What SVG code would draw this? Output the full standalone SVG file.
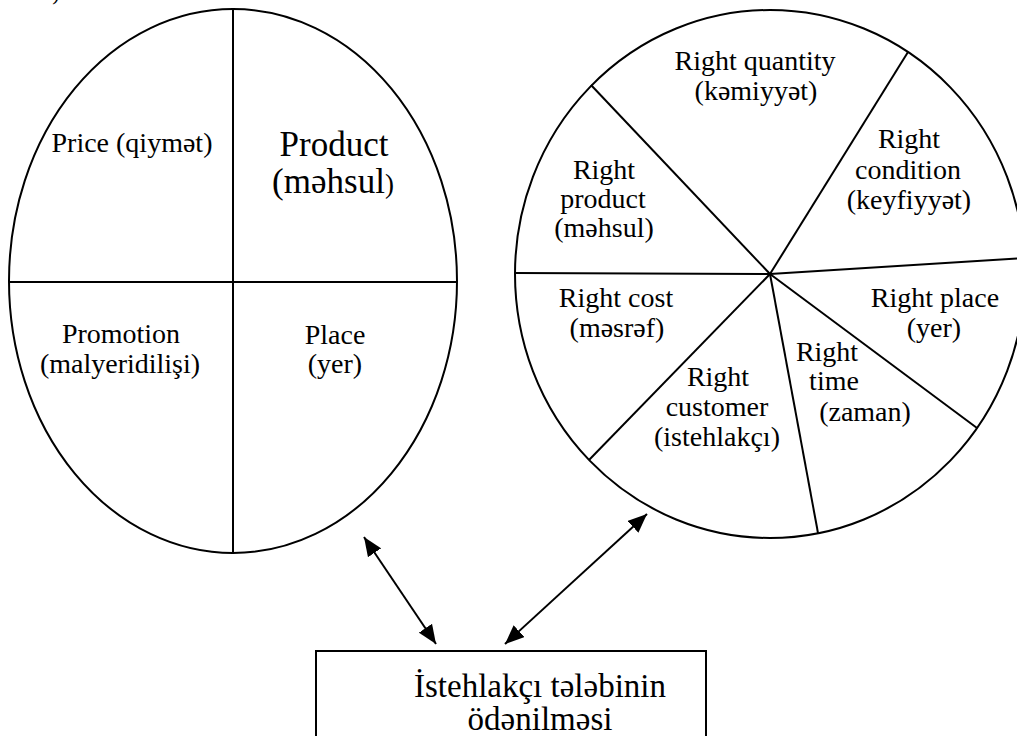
<svg xmlns="http://www.w3.org/2000/svg" width="1017" height="736" viewBox="0 0 1017 736">
<style>
.shape{fill:none;stroke:#000;stroke-width:2}
.t{font-family:"Liberation Serif","Times New Roman",serif;font-size:28px;fill:#000;text-anchor:middle}
.big{font-size:35px}
.box{font-size:33px}
.conn{stroke:#000;stroke-width:2;fill:none;marker-start:url(#ah);marker-end:url(#ah)}
</style>
<defs>
<marker id="ah" markerUnits="userSpaceOnUse" markerWidth="19" markerHeight="16" refX="19" refY="8" orient="auto-start-reverse">
<path d="M0,0 L19,8 L0,16 z" fill="#000"/>
</marker>
</defs>
<rect x="0" y="0" width="1017" height="736" fill="#fff"/>
<text class="t" x="56" y="0" style="font-size:22px">)</text>
<g id="four-p">
<ellipse class="shape" cx="233" cy="281" rx="224" ry="272"/>
<line class="shape" x1="233" y1="9" x2="233" y2="553"/>
<line class="shape" x1="9" y1="282" x2="457" y2="282"/>
<text class="t" x="132" y="152">Price (qiymət)</text>
<text class="t big" x="334" y="156">Product</text>
<text class="t big" x="333" y="193">(məhsul<tspan style="font-size:27px">)</tspan></text>
<text class="t" x="121" y="343">Promotion</text>
<text class="t" x="120" y="373">(malyeridilişi)</text>
<text class="t" x="335" y="344">Place</text>
<text class="t" x="335" y="373">(yer)</text>
</g>
<g id="seven-r">
<ellipse class="shape" cx="770" cy="274" rx="255" ry="264"/>
<line class="shape" x1="770" y1="274" x2="591" y2="85"/>
<line class="shape" x1="770" y1="274" x2="908" y2="52"/>
<line class="shape" x1="770" y1="274" x2="1025" y2="258"/>
<line class="shape" x1="770" y1="274" x2="977" y2="428"/>
<line class="shape" x1="770" y1="274" x2="818" y2="533"/>
<line class="shape" x1="770" y1="274" x2="589" y2="460"/>
<line class="shape" x1="770" y1="274" x2="515" y2="273"/>
<text class="t" x="755" y="70">Right quantity</text>
<text class="t" x="756" y="100">(kəmiyyət)</text>
<text class="t" x="604" y="179">Right</text>
<text class="t" x="603" y="208">product</text>
<text class="t" x="604" y="237">(məhsul)</text>
<text class="t" x="909" y="148">Right</text>
<text class="t" x="908" y="179">condition</text>
<text class="t" x="909" y="209">(keyfiyyət)</text>
<text class="t" x="616" y="307">Right cost</text>
<text class="t" x="617" y="337">(məsrəf)</text>
<text class="t" x="935" y="307">Right place</text>
<text class="t" x="934" y="337">(yer)</text>
<text class="t" x="827" y="361">Right</text>
<text class="t" x="834" y="390">time</text>
<text class="t" x="865" y="421">(zaman)</text>
<text class="t" x="718" y="386">Right</text>
<text class="t" x="717" y="416">customer</text>
<text class="t" x="717" y="446">(istehlakçı)</text>
</g>
<g id="demand">
<rect class="shape" x="316" y="651" width="390" height="110"/>
<text class="t box" x="540" y="697">İstehlakçı tələbinin</text>
<text class="t box" x="540" y="730">ödənilməsi</text>
</g>
<g id="connectors">
<line class="conn" x1="364" y1="537" x2="436" y2="644"/>
<line class="conn" x1="647" y1="514" x2="505" y2="644"/>
</g>
</svg>
